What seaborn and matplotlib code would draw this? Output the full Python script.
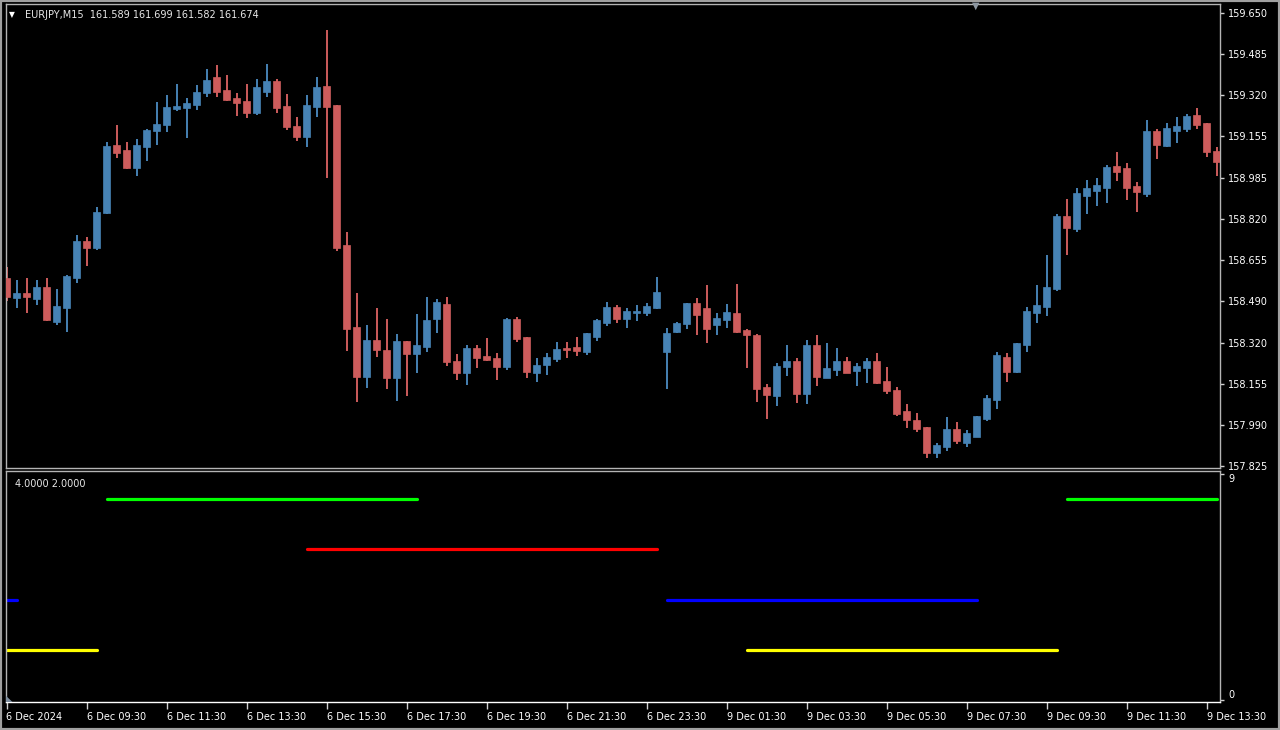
"""
EURJPY M15 candlestick chart with a level indicator panel, MT4 style.
"""

import numpy as np
import pandas as pd
import matplotlib
matplotlib.use("Agg")
import matplotlib.pyplot as plt
import matplotlib.patches as mpatches
import seaborn as sns

# ── Data ───────────────────────────────────────────────────────────────────────
opens = [
    158.582, 158.501, 158.521, 158.497, 158.546, 158.405, 158.461, 158.582, 158.731, 158.703,
    158.843, 159.117, 159.097, 159.025, 159.109, 159.174, 159.198, 159.262, 159.266, 159.278,
    159.327, 159.391, 159.339, 159.306, 159.294, 159.246, 159.331, 159.375, 159.274, 159.194,
    159.149, 159.270, 159.355, 159.278, 158.715, 158.385, 158.183, 158.332, 158.292, 158.179,
    158.328, 158.276, 158.304, 158.417, 158.477, 158.248, 158.199, 158.300, 158.268, 158.260,
    158.223, 158.417, 158.344, 158.199, 158.231, 158.256, 158.300, 158.304, 158.284, 158.344,
    158.401, 158.465, 158.417, 158.441, 158.441, 158.461, 158.284, 158.364, 158.397, 158.481,
    158.461, 158.393, 158.413, 158.441, 158.372, 158.352, 158.143, 158.107, 158.223, 158.248,
    158.115, 158.312, 158.179, 158.211, 158.248, 158.207, 158.219, 158.248, 158.167, 158.131,
    158.046, 158.010, 157.982, 157.877, 157.901, 157.974, 157.917, 157.942, 158.014, 158.091,
    158.264, 158.203, 158.312, 158.441, 158.465, 158.538, 158.831, 158.779, 158.912, 158.932,
    158.944, 159.033, 159.025, 158.952, 158.920, 159.174, 159.113, 159.174, 159.182, 159.238,
    159.206, 159.093,
]
highs = [
    158.626, 158.574, 158.582, 158.574, 158.582, 158.538, 158.594, 158.755, 158.747, 158.868,
    159.129, 159.198, 159.129, 159.141, 159.182, 159.290, 159.319, 159.363, 159.306, 159.359,
    159.423, 159.439, 159.399, 159.327, 159.363, 159.383, 159.443, 159.383, 159.323, 159.230,
    159.319, 159.391, 159.580, 159.278, 158.767, 158.521, 158.393, 158.461, 158.417, 158.356,
    158.328, 158.437, 158.505, 158.497, 158.505, 158.276, 158.312, 158.312, 158.340, 158.280,
    158.421, 158.425, 158.344, 158.260, 158.280, 158.324, 158.324, 158.344, 158.360, 158.417,
    158.485, 158.473, 158.461, 158.473, 158.481, 158.586, 158.380, 158.405, 158.481, 158.501,
    158.554, 158.441, 158.477, 158.558, 158.376, 158.356, 158.155, 158.240, 158.312, 158.260,
    158.332, 158.352, 158.320, 158.300, 158.264, 158.240, 158.260, 158.280, 158.223, 158.143,
    158.075, 158.038, 157.982, 157.917, 158.022, 158.002, 157.970, 158.026, 158.111, 158.284,
    158.280, 158.320, 158.465, 158.554, 158.674, 158.839, 158.900, 158.944, 158.976, 158.984,
    159.037, 159.089, 159.045, 158.968, 159.218, 159.182, 159.206, 159.230, 159.242, 159.266,
    159.206, 159.109,
]
lows = [
    158.489, 158.461, 158.441, 158.473, 158.410, 158.393, 158.364, 158.562, 158.630, 158.694,
    158.839, 159.065, 159.022, 158.992, 159.053, 159.117, 159.170, 159.254, 159.145, 159.258,
    159.310, 159.310, 159.294, 159.234, 159.226, 159.238, 159.310, 159.246, 159.178, 159.133,
    159.109, 159.230, 158.984, 158.690, 158.288, 158.083, 158.139, 158.264, 158.135, 158.087,
    158.107, 158.199, 158.284, 158.360, 158.227, 158.171, 158.151, 158.219, 158.248, 158.171,
    158.211, 158.324, 158.179, 158.163, 158.191, 158.244, 158.260, 158.268, 158.272, 158.328,
    158.389, 158.401, 158.380, 158.409, 158.429, 158.457, 158.135, 158.360, 158.376, 158.352,
    158.320, 158.352, 158.380, 158.360, 158.219, 158.083, 158.014, 158.066, 158.187, 158.079,
    158.075, 158.147, 158.179, 158.187, 158.199, 158.147, 158.159, 158.155, 158.115, 158.026,
    157.978, 157.962, 157.857, 157.857, 157.885, 157.913, 157.901, 157.942, 158.006, 158.054,
    158.163, 158.199, 158.284, 158.401, 158.429, 158.529, 158.674, 158.767, 158.839, 158.872,
    158.884, 158.972, 158.896, 158.848, 158.908, 159.061, 159.109, 159.125, 159.170, 159.182,
    159.069, 158.992,
]
closes = [
    158.505, 158.521, 158.505, 158.546, 158.413, 158.469, 158.590, 158.731, 158.703, 158.848,
    159.113, 159.085, 159.025, 159.117, 159.178, 159.202, 159.270, 159.274, 159.286, 159.331,
    159.379, 159.331, 159.298, 159.286, 159.246, 159.351, 159.375, 159.266, 159.190, 159.149,
    159.278, 159.351, 159.270, 158.703, 158.377, 158.183, 158.332, 158.292, 158.179, 158.328,
    158.276, 158.312, 158.413, 158.485, 158.244, 158.199, 158.300, 158.260, 158.252, 158.223,
    158.417, 158.336, 158.203, 158.231, 158.264, 158.296, 158.292, 158.288, 158.360, 158.413,
    158.465, 158.417, 158.449, 158.449, 158.469, 158.525, 158.360, 158.401, 158.481, 158.433,
    158.376, 158.421, 158.445, 158.364, 158.352, 158.135, 158.111, 158.227, 158.248, 158.115,
    158.312, 158.183, 158.219, 158.248, 158.199, 158.227, 158.248, 158.159, 158.127, 158.034,
    158.010, 157.974, 157.877, 157.909, 157.974, 157.925, 157.958, 158.026, 158.099, 158.272,
    158.203, 158.320, 158.449, 158.473, 158.546, 158.831, 158.783, 158.924, 158.944, 158.956,
    159.029, 159.009, 158.944, 158.928, 159.174, 159.117, 159.186, 159.194, 159.234, 159.198,
    159.089, 159.049,
]

price_ticks = [159.650, 159.485, 159.320, 159.155, 158.985, 158.820,
               158.655, 158.490, 158.320, 158.155, 157.990, 157.825]

time_tick_bars = list(range(0, 121, 8))
time_tick_labels = [
    "6 Dec 2024", "6 Dec 09:30", "6 Dec 11:30", "6 Dec 13:30", "6 Dec 15:30",
    "6 Dec 17:30", "6 Dec 19:30", "6 Dec 21:30", "6 Dec 23:30", "9 Dec 01:30",
    "9 Dec 03:30", "9 Dec 05:30", "9 Dec 07:30", "9 Dec 09:30", "9 Dec 11:30",
    "9 Dec 13:30",
]

# indicator levels: (value, colour, [(first bar, last bar), ...])
green_level, green_segments = 8, [(10, 41), (106, 121)]
red_level, red_segments = 6, [(30, 65)]
blue_level, blue_segments = 4, [(0, 1), (66, 97)]
yellow_level, yellow_segments = 2, [(0, 9), (74, 105)]

header_text = "EURJPY,M15  161.589 161.699 161.582 161.674"
indicator_text = "4.0000 2.0000"

# ── Style ──────────────────────────────────────────────────────────────────────
sns.set_theme(style="dark", rc={
    "axes.facecolor": "black",
    "figure.facecolor": "black",
    "axes.edgecolor": "#b4b4b4",
    "axes.linewidth": 1.0,
    "xtick.color": "#d0d0d0",
    "ytick.color": "#d0d0d0",
    "text.color": "white",
    "axes.grid": False,
})
plt.rcParams["font.family"] = ["DejaVu Sans"]

BULL = "#4682B4"
BEAR = "#CD5C5C"
W, H = 1280, 730


def fx(px):
    return px / W


def fy(py):
    return 1 - py / H


fig = plt.figure(figsize=(12.8, 7.3), dpi=100, facecolor="black")
ax = fig.add_axes([fx(5.5), fy(468), fx(1220) - fx(5.5), fy(4) - fy(468)])
ax2 = fig.add_axes([fx(5.5), fy(702), fx(1220) - fx(5.5), fy(471) - fy(702)])

# ── Candles ────────────────────────────────────────────────────────────────────
df = pd.DataFrame({"open": opens, "high": highs, "low": lows, "close": closes})
df["bar"] = np.arange(len(df))
colors = np.where(df["close"] >= df["open"], BULL, BEAR)

ax.vlines(df["bar"], df["low"], df["high"], colors=colors, lw=1.4, zorder=2)
body = (df["close"] - df["open"]).abs().clip(lower=0.003)
ax.bar(df["bar"], body, bottom=df[["open", "close"]].min(axis=1), width=0.66,
       color=colors, edgecolor=colors, linewidth=0.5, zorder=3)

ax.set_xlim(-0.1, 121.35)
ax.set_ylim(157.817, 159.685)
ax.set_xticks([])
ax.yaxis.tick_right()
ax.set_yticks(price_ticks, [f"{p:.3f}" for p in price_ticks])
ax.tick_params(axis="y", right=True, left=False, length=3, width=1,
               labelsize=7, labelcolor="white", pad=3)

# ── Indicator panel ────────────────────────────────────────────────────────────
for level, color, segments in [(green_level, "#00FF00", green_segments),
                               (red_level, "#FF0000", red_segments),
                               (blue_level, "#0000FF", blue_segments),
                               (yellow_level, "#FFFF00", yellow_segments)]:
    for start, end in segments:
        sns.lineplot(x=[start, end], y=[level, level], color=color, linewidth=2.3,
                     solid_capstyle="round", ax=ax2, legend=False)

ax2.set_xlim(-0.1, 121.35)
ax2.set_ylim(-0.07, 9.11)
ax2.yaxis.tick_right()
ax2.set_yticks([0, 9], ["0", "9"])
ax2.tick_params(axis="y", right=True, left=False, length=3, width=1,
                labelsize=7, labelcolor="white", pad=3)
for lbl, va in zip(ax2.get_yticklabels(), ["bottom", "top"]):
    lbl.set_va(va)

ax2.set_xticks(time_tick_bars, time_tick_labels)
ax2.tick_params(axis="x", bottom=True, length=5, width=1, labelsize=7,
                labelcolor="white", pad=2)
for lbl in ax2.get_xticklabels():
    lbl.set_ha("left")
ax2.set_xlabel("")
ax2.set_ylabel("")
ax2.spines["bottom"].set_color("white")

# ── Texts and frame ────────────────────────────────────────────────────────────
fig.text(fx(9), fy(15), "▼", color="white", fontsize=5.5, va="center", ha="left")
fig.text(fx(25), fy(15), header_text, color="#e8e8e8", fontsize=7, va="center", ha="left")
fig.text(fx(15), fy(484), indicator_text, color="#e8e8e8", fontsize=7, va="center", ha="left")
fig.text(fx(976), fy(6), "▼", color="#8c96a0", fontsize=7, va="center", ha="center")
fig.text(fx(5.5), fy(699), "◣", color="#7f8fa0", fontsize=6, va="center", ha="left")
fig.patches.append(mpatches.Rectangle((0, 0), 1, 1, transform=fig.transFigure, fill=False,
                                      edgecolor="#a0a0a0", linewidth=3))

fig.savefig("out.png", dpi=100, facecolor="black")
plt.close(fig)
